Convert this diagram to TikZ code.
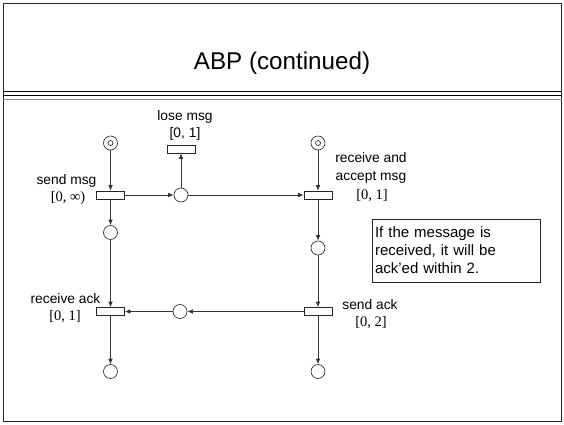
\documentclass[tikz,border=0pt]{standalone}
\usepackage{fontspec}
\setmainfont{Liberation Sans}
\newfontfamily\serifx{Liberation Serif}
\usetikzlibrary{arrows.meta}
\tikzset{
  place/.style={circle, draw=black!85, minimum size=14pt, inner sep=0pt, line width=0.65pt, fill=white},
  trans/.style={rectangle, draw=black!85, minimum width=28pt, minimum height=8pt, inner sep=0pt, line width=0.65pt, fill=white},
  arc/.style={-{Latex[length=5.5pt,width=4.5pt]}, line width=0.65pt, draw=black!80},
  lbl/.style={inner sep=0pt, font=\fontsize{13.8}{18.5}\selectfont, align=center},
  slbl/.style={inner sep=0pt, font=\serifx\fontsize{14.5}{18.5}\selectfont},
  tok/.style={line width=0.65pt, draw=black!85}
}
\begin{document}
\begin{tikzpicture}[x=1pt,y=-1pt]
\useasboundingbox (0,0) rectangle (564,424);
% frame
\draw[line width=1.8pt, black!85] (3.5,3.5) rectangle (561.5,421.5);
\node[font=\fontsize{24.2}{29}\selectfont] (title) at (282,63) {ABP (continued)};
\draw[line width=0.8pt] (3,91) -- (562,91);
\draw[line width=1.2pt] (3,95.7) -- (562,95.7);
\draw[line width=1.2pt, black!45] (3,99.5) -- (562,99.5);

% places and transitions
\node[place] (pL0) at (110.5,143) {};
\node[trans] (tSend) at (110.5,195) {};
\node[place] (pL1) at (110.5,232.5) {};
\node[trans] (tRack) at (110.5,311.5) {};
\node[place] (pL2) at (110.5,371.5) {};
\node[place] (pLose) at (181,195) {};
\node[trans] (tLose) at (181,149) {};
\node[place] (pAck) at (180,311.5) {};
\node[place] (pR0) at (318,143) {};
\node[trans] (tRecv) at (318,195) {};
\node[place] (pR1) at (318,248) {};
\node[trans] (tSack) at (318,311.5) {};
\node[place] (pR2) at (318,371.5) {};

% tokens
\draw[tok] (pL0.center) circle[radius=2.5pt];
\draw[tok] (pR0.center) circle[radius=2.5pt];

% arcs
\draw[arc] (pL0) -- (tSend);
\draw[arc] (tSend) -- (pL1);
\draw[arc] (tSend) -- (pLose);
\draw[arc] (pLose) -- (tLose);
\draw[arc] (pLose) -- (tRecv);
\draw[arc] (pR0) -- (tRecv);
\draw[arc] (tRecv) -- (pR1);
\draw[arc] (pR1) -- (tSack);
\draw[arc] (tSack) -- (pAck);
\draw[arc] (pAck) -- (tRack);
\draw[arc] (pL1) -- (tRack);
\draw[arc] (tRack) -- (pL2);
\draw[arc] (tSack) -- (pR2);

% labels
\node[lbl] (lLose) at (185,117) {lose msg};
\node[lbl] (lLoseT) at (185,133.5) {[0, 1]};
\node[lbl] (lSend) at (66.5,181) {send msg};
\node[slbl] (lSendT) at (68,198) {[0, ∞)};
\node[lbl] (lRecv) at (371,168) {receive and\\accept msg};
\node[slbl] (lRecvT) at (372,195.5) {[0, 1]};
\node[lbl] (lRack) at (65.5,298.5) {receive ack};
\node[slbl] (lRackT) at (65,317) {[0, 1]};
\node[lbl] (lSack) at (370,304.5) {send ack};
\node[slbl] (lSackT) at (371,322.5) {[0, 2]};

% note
\node[draw=black!85, line width=0.8pt, minimum width=168pt, minimum height=63pt, inner xsep=3pt, inner ysep=0pt,
  text width=162pt, align=left, font=\fontsize{15}{18}\selectfont] (note) at (456,250.5)
  {If the message is\\received, it will be\\ack’ed within 2.};
\end{tikzpicture}
\end{document}
